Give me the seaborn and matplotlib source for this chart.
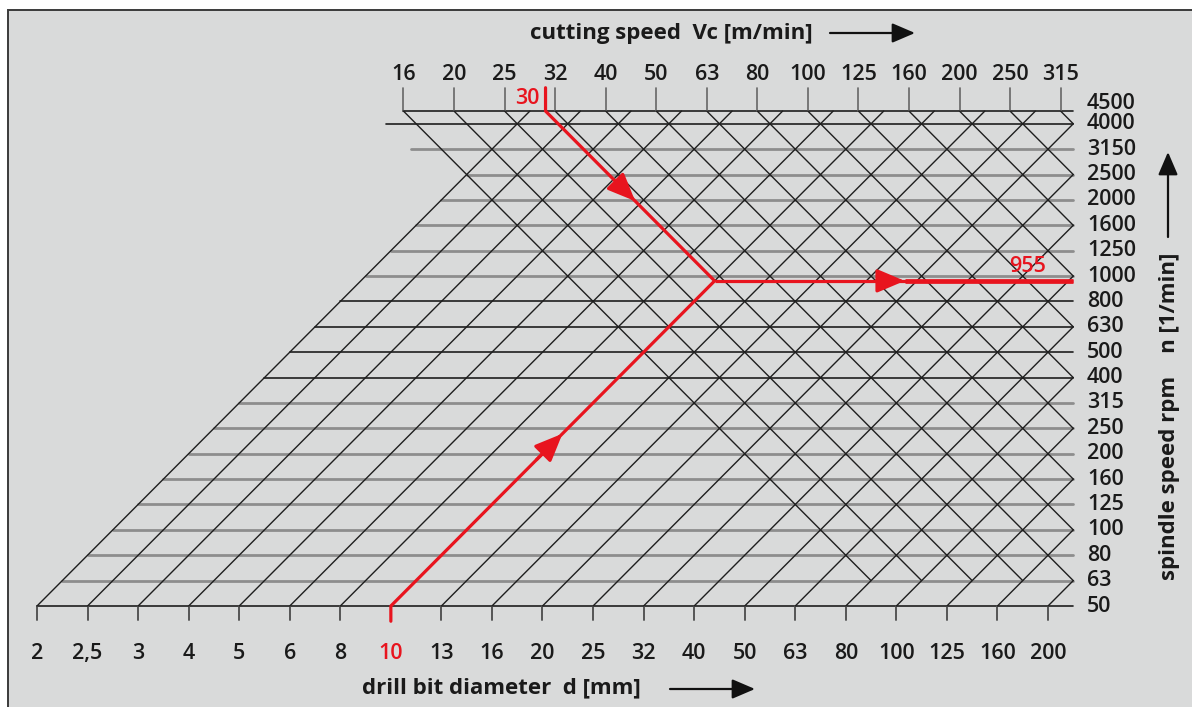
import numpy as np
import pandas as pd
import matplotlib
matplotlib.use("Agg")
import matplotlib.pyplot as plt
import seaborn as sns
from matplotlib.patches import Rectangle

# Nomogram scales (nominal R10 values as printed)
d_values = [2, 2.5, 3, 4, 5, 6, 8, 10, 13, 16, 20, 25, 32, 40, 50, 63, 80, 100, 125, 160, 200]
vc_values = [16, 20, 25, 32, 40, 50, 63, 80, 100, 125, 160, 200, 250, 315]
rpm_values = [50, 63, 80, 100, 125, 160, 200, 250, 315, 400, 500, 630, 800,
              1000, 1250, 1600, 2000, 2500, 3150, 4000, 4500]

# worked example
example_d = 10
example_vc = 30

# styling
dark_rpm = [50, 400, 500, 630, 800, 4000, 4500]
RED = "#e8141e"
INK = "#1e1e1e"
BG = "#d9dada"
PX_X, PX_Y = 50.55, 25.38     # pixels per 0.1 decade
X0_PX, Y0_PX = 37, 606        # pixel position of d=2 / n=50
FS = 15.5


def step_pos(values, ref):
    # position in 0.1-decade steps, snapped to half steps
    return np.round(20 * np.log10(np.asarray(values, float) / ref)) / 2


xd = step_pos(d_values, d_values[0])
yn = step_pos(rpm_values, rpm_values[0])
y_top = yn[-1]
x_right = xd[-1] + 0.5

# where the Vc scale starts on the top line: n = 1000 Vc / (pi d)
d_at_top = 1000 * vc_values[0] / (np.pi * rpm_values[-1])
xv0 = np.round(4 * (10 * np.log10(d_at_top / d_values[0]) + 0.5 * y_top)) / 4
xv = xv0 + step_pos(vc_values, vc_values[0])

# grid segments
rows = []
for i, x in enumerate(xd):
    y_end = min(y_top, 2 * (x_right - x))
    rows += [("d%d" % i, x, 0.0), ("d%d" % i, x + 0.5 * y_end, y_end)]
for k, x in enumerate(xv):
    y_end = max(yn[1], 2 * (x + 0.5 * y_top - x_right))
    rows += [("v%d" % k, x, y_top), ("v%d" % k, x + 0.5 * (y_top - y_end), y_end)]
grid = pd.DataFrame(rows, columns=["line", "x", "y"])

# example path
n_example = 1000 * example_vc / (np.pi * example_d)
x_ex = step_pos([example_d], d_values[0])[0]
y_ex = 10 * np.log10(n_example / rpm_values[0])
corner = (x_ex + 0.5 * y_ex, y_ex)
x_top_ex = corner[0] - 0.5 * (y_top - y_ex)
path = pd.DataFrame({
    "x": [x_ex, x_ex, corner[0], x_top_ex, x_top_ex],
    "y": [-0.6, 0, corner[1], y_top, y_top + 0.92],
})

sns.set_theme(style="white")
plt.rcParams["font.family"] = ["Open Sans", "DejaVu Sans"]

fig = plt.figure(figsize=(11.92, 7.07), dpi=100)
fig.patch.set_facecolor("white")
fig.add_artist(Rectangle((8 / 1192, -0.02), 1.0, 1 - 10 / 707 + 0.02,
                         transform=fig.transFigure, facecolor=BG,
                         edgecolor="#3a3a3a", lw=1.4, zorder=-5))

ax = fig.add_axes([0, 0, 1, 1])
ax.patch.set_visible(False)
ax.set_xlim(-X0_PX / PX_X, (1192 - X0_PX) / PX_X)
ax.set_ylim(-(707 - Y0_PX) / PX_Y, Y0_PX / PX_Y)
ax.axis("off")

# horizontal rpm lines
y_meet = xv0 + 0.5 * y_top
for v, y in zip(rpm_values, yn):
    if y <= y_meet:
        left = 0.5 * y
    elif y == y_top:
        left = xv0
    else:
        left = xv0 + 0.5 * (y_top - y) - 0.6
    if v in dark_rpm:
        ax.plot([left, x_right], [y, y], color=INK, lw=1.2, zorder=2)
    else:
        ax.plot([left, x_right], [y, y], color="#8d8d8d", lw=2.0, zorder=1)

sns.lineplot(data=grid, x="x", y="y", units="line", estimator=None, sort=False,
             color=INK, lw=1.0, legend=False, ax=ax, zorder=3)

# ticks
for x in xd:
    ax.plot([x, x], [0, -0.55], color="#555555", lw=1.4, zorder=2)
for x in xv:
    ax.plot([x, x], [y_top, y_top + 0.92], color="#666666", lw=1.2, zorder=2)

# tick labels
lab_kw = dict(fontsize=FS, fontweight="semibold", color="#1a1a1a")
for v, x in zip(d_values, xd):
    lab = str(v).replace(".", ",")
    kw = dict(lab_kw, color=RED) if v == example_d else lab_kw
    ax.text(x, -1.88, lab, ha="center", va="center", **kw)
for v, x in zip(vc_values, xv):
    ax.text(x, 20.95, str(v), ha="center", va="center", **lab_kw)
for v, y in zip(rpm_values, yn):
    dy = 0.3 if y == y_top else 0.0
    ax.text(x_right + 0.27, y + dy, str(v), ha="left", va="center", **lab_kw)

# example path
sns.lineplot(data=path, x="x", y="y", estimator=None, sort=False, color=RED,
             lw=2.3, legend=False, ax=ax, zorder=5)
ax.plot([corner[0], x_right], [y_ex, y_ex], color=RED, lw=2.3, zorder=5,
        solid_capstyle="butt")
ax.plot([corner[0] + 0.53 * (x_right - corner[0]), x_right], [y_ex, y_ex],
        color=RED, lw=3.4, zorder=5, solid_capstyle="butt")

segments = [((x_ex, 0), corner), ((x_top_ex, y_top), corner), (corner, (x_right, y_ex))]
for (x0, y0), (x1, y1) in segments:
    t = 0.53
    tip = (x0 + t * (x1 - x0), y0 + t * (y1 - y0))
    back = (x0 + (t - 0.08) * (x1 - x0), y0 + (t - 0.08) * (y1 - y0))
    ax.annotate("", xy=tip, xytext=back,
                arrowprops=dict(arrowstyle="-|>,head_length=0.85,head_width=0.36",
                                mutation_scale=20, color=RED, lw=2.3,
                                shrinkA=0, shrinkB=0), zorder=6)

red_kw = dict(lab_kw, color=RED)
ax.text(x_top_ex - 0.12, y_top + 0.5, str(example_vc), ha="right", va="center", **red_kw)
ax.text(x_right - 0.9, y_ex + 0.55, "%d" % round(n_example), ha="center", va="center",
        **red_kw)

# axis titles with arrows
title_kw = dict(fontsize=16, fontweight="bold", color="#1a1a1a")
fig.text(530 / 1192, 1 - 33 / 707, "cutting speed  Vc [m/min]", ha="left", va="center",
         **title_kw)
fig.text(362 / 1192, 1 - 688 / 707, "drill bit diameter  d [mm]", ha="left", va="center",
         **title_kw)
fig.text(1170 / 1192, 1 - 416 / 707, "spindle speed rpm    n [1/min]", ha="center",
         va="center", rotation=90, **title_kw)

arrow_kw = dict(arrowstyle="-|>,head_length=0.7,head_width=0.3", mutation_scale=20,
                color="#111111", lw=1.6, shrinkA=0, shrinkB=0)
for (x0, y0), (x1, y1) in [((830, 33), (915, 33)), ((670, 689), (755, 689)),
                           ((1168, 237), (1168, 152))]:
    ax.annotate("", xy=(x1 / 1192, 1 - y1 / 707), xytext=(x0 / 1192, 1 - y0 / 707),
                xycoords="figure fraction", textcoords="figure fraction",
                arrowprops=arrow_kw)

fig.savefig("out.png", dpi=100, facecolor=fig.get_facecolor())
